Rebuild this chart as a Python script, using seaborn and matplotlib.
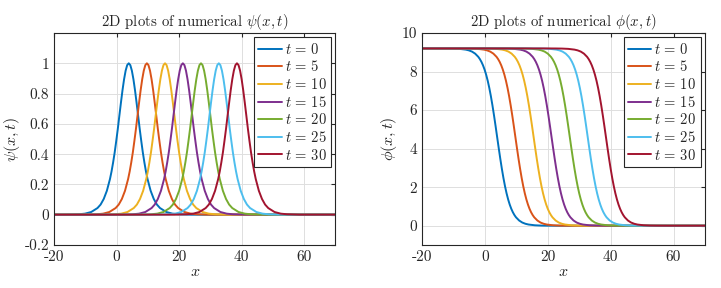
import numpy as np
import pandas as pd
import matplotlib
matplotlib.use("Agg")
import matplotlib.pyplot as plt
import seaborn as sns

# times shown and where each wave sits (read from the peaks)
times = [0, 5, 10, 15, 20, 25, 30]
centers = [3.9, 9.7, 15.5, 21.2, 27.0, 32.7, 38.5]

# shape of one wave, read around its centre
offsets = [-90, -20, -16, -14, -12, -10, -9, -8, -7, -6, -5.5, -5, -4.5, -4,
           -3.5, -3, -2.5, -2, -1.5, -1, -0.5, 0, 0.5, 1, 1.5, 2, 2.5, 3,
           3.5, 4, 4.5, 5, 5.5, 6, 7, 8, 9, 10, 12, 14, 16, 20, 90]
psi_shape = [0, 0.0005, 0.003, 0.007, 0.018, 0.044, 0.067, 0.104, 0.158,
             0.236, 0.286, 0.345, 0.411, 0.487, 0.567, 0.654, 0.740, 0.822,
             0.894, 0.951, 0.988, 1.0, 0.988, 0.951, 0.894, 0.822, 0.740,
             0.654, 0.567, 0.487, 0.411, 0.345, 0.286, 0.236, 0.158, 0.104,
             0.067, 0.044, 0.018, 0.007, 0.003, 0.0005, 0]
phi_shape = [9.2, 9.2, 9.197, 9.192, 9.177, 9.138, 9.099, 9.035, 8.930,
             8.764, 8.647, 8.502, 8.323, 8.103, 7.838, 7.522, 7.151, 6.726,
             6.248, 5.727, 5.172, 4.600, 4.028, 3.473, 2.952, 2.474, 2.049,
             1.678, 1.362, 1.097, 0.877, 0.698, 0.553, 0.436, 0.270, 0.165,
             0.101, 0.062, 0.023, 0.008, 0.003, 0.0, 0.0]

colors = ["#0072BD", "#D95319", "#EDB120", "#7E2F8E", "#77AC30",
          "#4DBEEE", "#A2142F"]

rows = []
for t, c in zip(times, centers):
    for dx, p, f in zip(offsets, psi_shape, phi_shape):
        rows.append({"x": c + dx, "psi": p, "phi": f,
                     "t": r"$t\,=\,%d$" % t})
df = pd.DataFrame(rows)

sns.set_style("white")
plt.rcParams["font.family"] = ["cmr10", "DejaVu Serif"]
plt.rcParams["mathtext.fontset"] = "cm"
plt.rcParams["axes.unicode_minus"] = False
plt.rcParams["axes.formatter.use_mathtext"] = True
plt.rcParams["font.size"] = 10

fig = plt.figure(figsize=(7.21, 2.88), dpi=100)
ax1 = fig.add_axes([0.0749, 0.1493, 0.3904, 0.7361])
ax2 = fig.add_axes([0.5853, 0.1493, 0.3925, 0.7361])

palette = dict(zip(df["t"].unique(), colors))


def panel(ax, col, sym, ylim, yticks):
    sns.lineplot(data=df, x="x", y=col, hue="t", palette=palette, ax=ax,
                 linewidth=1.4, errorbar=None)
    ax.set_xlim(-20, 70)
    ax.set_ylim(*ylim)
    ax.set_xticks([-20, 0, 20, 40, 60])
    ax.set_yticks(yticks)
    ax.set_yticklabels(["%g" % v for v in yticks])
    ax.set_xticklabels(["-20", "0", "20", "40", "60"])
    ax.grid(True, color="#dedede", linewidth=0.7)
    ax.tick_params(direction="in", length=3, top=True, right=True,
                   labelsize=11, pad=3.5)
    for s in ax.spines.values():
        s.set_color("#262626")
        s.set_linewidth(0.8)
    ax.set_xlabel(r"$x$", fontsize=11.5, labelpad=1)
    ax.set_ylabel(r"$\%s(x,t)$" % sym, fontsize=11.5, labelpad=2)
    ax.set_title(r"2D plots of numerical $\%s(x,t)$" % sym, fontsize=10.7,
                 pad=5)
    leg = ax.legend(loc="upper right", fontsize=10.5, frameon=True,
                    fancybox=False, framealpha=1, edgecolor="#262626",
                    handlelength=1.6, handletextpad=0.2, labelspacing=0.18,
                    borderpad=0.3, borderaxespad=0.3)
    leg.get_frame().set_linewidth(0.8)


panel(ax1, "psi", "psi", (-0.2, 1.2), [-0.2, 0, 0.2, 0.4, 0.6, 0.8, 1])
panel(ax2, "phi", "phi", (-1, 10), [0, 2, 4, 6, 8, 10])

plt.savefig("out.png", dpi=100)
